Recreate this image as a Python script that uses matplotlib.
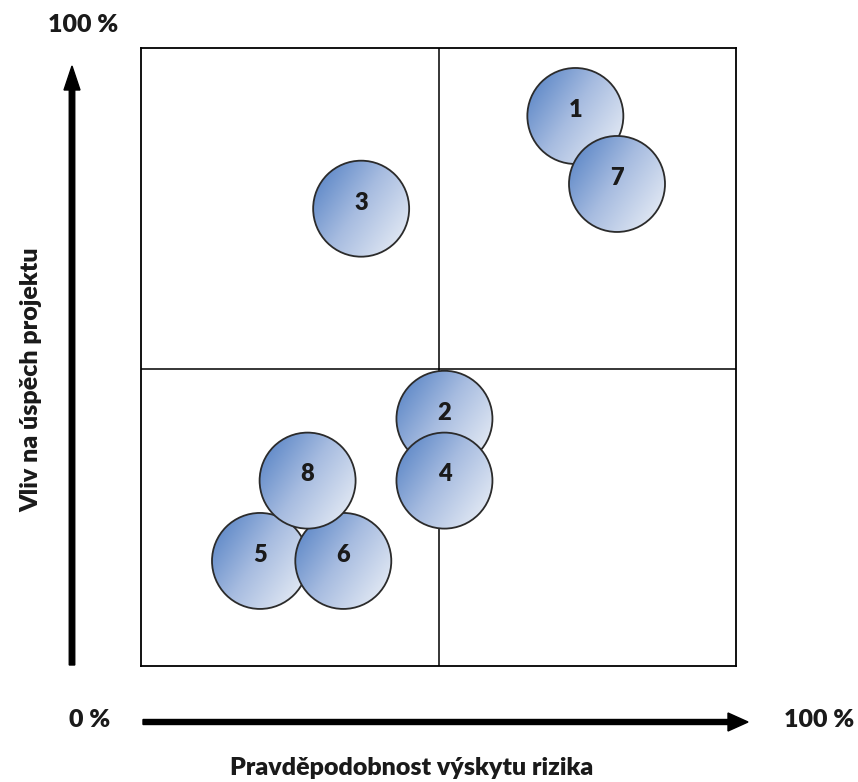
import numpy as np
import matplotlib.pyplot as plt
from matplotlib.patches import Ellipse, FancyArrow
from matplotlib.colors import LinearSegmentedColormap

# risk id, probability (%), impact (%)
risk_ids = ["1", "2", "3", "4", "5", "6", "7", "8"]
probability = [73, 51, 37, 51, 20, 34, 80, 28]
impact = [89, 40, 74, 30, 17, 17, 78, 30]

plt.rcParams['font.family'] = ['Lato', 'DejaVu Sans']

W, H = 858, 782
fig = plt.figure(figsize=(W / 100, H / 100), dpi=100)
ax = fig.add_axes([141 / W, 116 / H, 595 / W, 618 / H])
ax.set_xticks([])
ax.set_yticks([])
for s in ax.spines.values():
    s.set_linewidth(1.3)
ax.axvline(50, color="black", lw=1.1)
ax.axhline(48, color="black", lw=1.1)

# bubble radius in pixels -> data units per axis
r_px = 48
rx = r_px / 595 * 100
ry = r_px / 618 * 100

cmap = LinearSegmentedColormap.from_list("bubble", ["#4d7cc2", "#a7bce0", "#e9eef6"])
g = np.linspace(0, 1, 200)
grad = np.clip(0.6 * g[None, :] + 0.4 * g[:, None] + 0.05, 0, 1)

for i, (lab, x, y) in enumerate(zip(risk_ids, probability, impact)):
    e = Ellipse((x, y), 2 * rx, 2 * ry, facecolor="none", edgecolor="#2b2b2b",
                lw=1.3, zorder=3 + i * 2 + 1)
    ax.add_patch(e)
    im = ax.imshow(grad, cmap=cmap, extent=(x - rx, x + rx, y - ry, y + ry),
                   origin="upper", zorder=3 + i * 2, aspect="auto")
    im.set_clip_path(e)
    ax.text(x, y + 1, lab, ha="center", va="center", fontsize=17,
            fontweight="heavy", color="#1a1a1a", zorder=3 + i * 2 + 1)
ax.set_xlim(0, 100)
ax.set_ylim(0, 100)

# axis arrows drawn in figure pixels
fig.patches.append(FancyArrow(
    72 / W, (H - 665) / H, 0, (665 - 90) / H, width=5 / H, head_width=16 / W,
    head_length=24 / H, length_includes_head=False, color="black",
    transform=fig.transFigure))
fig.patches.append(FancyArrow(
    143 / W, (H - 722) / H, (728 - 143) / W, 0, width=5 / H, head_width=18 / H,
    head_length=20 / W, length_includes_head=False, color="black",
    transform=fig.transFigure))

tkw = dict(ha="center", va="center", fontsize=18, fontweight="heavy", color="#1a1a1a")
fig.text(83 / W, (H - 25) / H, "100 %", **tkw)
fig.text(90 / W, (H - 720) / H, "0 %", **tkw)
fig.text(819 / W, (H - 720) / H, "100 %", **tkw)
fig.text(412 / W, (H - 768) / H, "Pravděpodobnost výskytu rizika", **tkw)
fig.text(31 / W, (H - 380) / H, "Vliv na úspěch projektu", rotation=90, **tkw)

fig.savefig("out.png", dpi=100)
